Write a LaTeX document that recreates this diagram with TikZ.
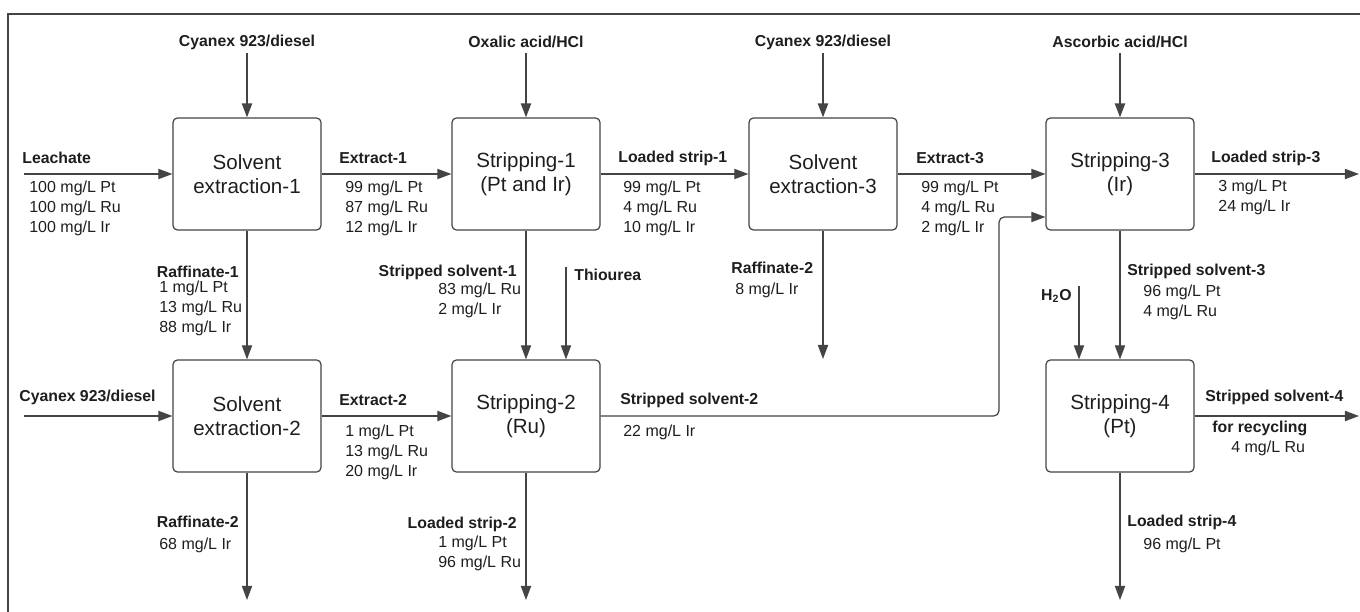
\documentclass[tikz,border=0pt]{standalone}
\usepackage{fontspec}
\setmainfont{Liberation Sans}
\usepackage{xcolor}
\usetikzlibrary{arrows.meta}
\definecolor{linegray}{HTML}{444444}
\definecolor{textgray}{HTML}{1E1E1E}

\begin{document}
\begin{tikzpicture}[x=0.02cm,y=-0.02cm,
    box/.style={draw=linegray,line width=0.7pt,rounded corners=2.5pt,minimum width=2.96cm,minimum height=2.24cm,align=center,text=textgray,font=\fontsize{11.7}{13.7}\selectfont},
    flow/.style={draw=linegray,line width=0.7pt,-{Triangle[length=8pt,width=5.8pt]}},
    feed/.style={flow,line width=1pt},
    lbl/.style={inner sep=0pt,text=textgray,font=\bfseries\fontsize{9}{11.4}\selectfont},
    val/.style={inner sep=0pt,align=left,anchor=west,text=textgray,font=\fontsize{9.1}{11.4}\selectfont}]
    \useasboundingbox (0,0) rectangle (1360,612);
    \draw[linegray,line width=0.6pt] (8,612) -- (8,14) -- (1360,14);
    \node[box] (se1) at (247,174) {Solvent\\extraction-1};
    \node[box] (st1) at (526,174) {Stripping-1\\(Pt and Ir)};
    \node[box] (se3) at (823,174) {Solvent\\extraction-3};
    \node[box] (st3) at (1120,174) {Stripping-3\\(Ir)};
    \node[box] (se2) at (247,416) {Solvent\\extraction-2};
    \node[box] (st2) at (526,416) {Stripping-2\\(Ru)};
    \node[box] (st4) at (1120,416) {Stripping-4\\(Pt)};
    \coordinate (in1) at (247,53);
    \coordinate (in2) at (526,53);
    \coordinate (in3) at (823,53);
    \coordinate (in4) at (1120,53);
    \coordinate (in5) at (24,174);
    \coordinate (in6) at (24,416);
    \coordinate (in7) at (566,267);
    \coordinate (in8) at (1079,286);
    \coordinate (out1) at (1359,174);
    \coordinate (out2) at (823,359);
    \coordinate (out3) at (247,600);
    \coordinate (out4) at (526,600);
    \coordinate (out5) at (1120,600);
    \coordinate (out6) at (1359,416);
    \coordinate (bend) at (999,217);
    \node[lbl] (cy1) at (247,42) {Cyanex 923/diesel};
    \node[lbl] (ox) at (526,42) {Oxalic acid/HCl};
    \node[lbl] (cy3) at (823,42) {Cyanex 923/diesel};
    \node[lbl] (asc) at (1120,42) {Ascorbic acid/HCl};
    \draw[feed] (in1) -- (se1);
    \draw[feed] (in2) -- (st1);
    \draw[feed] (in3) -- (se3);
    \draw[feed] (in4) -- (st3);
    \draw[flow] (in5) -- (se1);
    \draw[flow] (se1) -- (st1);
    \draw[flow] (st1) -- (se3);
    \draw[flow] (se3) -- (st3);
    \draw[flow] (st3) -- (out1);
    \draw[flow] (se1) -- (se2);
    \draw[flow] (st1) -- (st2);
    \draw[flow] (in7) -- (in7 |- st2.north);
    \draw[flow] (se3) -- (out2);
    \draw[flow] (st3) -- (st4);
    \draw[flow] (in8) -- (in8 |- st4.north);
    \draw[flow] (in6) -- (se2);
    \draw[flow] (se2) -- (st2);
    \draw[flow,rounded corners=3pt] (st2.east) -| (bend) -- (bend -| st3.west);
    \draw[flow] (se2) -- (out3);
    \draw[flow] (st2) -- (out4);
    \draw[flow] (st4) -- (out6);
    \draw[flow] (st4) -- (out5);
    \begin{scope}[every node/.append style={anchor=west}]
      \node[lbl] (leach) at (22,158) {Leachate};
      \node[val] (leachv) at (29,208) {100 mg/L Pt\\100 mg/L Ru\\100 mg/L Ir};
      \node[lbl] (ex1) at (339,158) {Extract-1};
      \node[val] (ex1v) at (345,208) {99 mg/L Pt\\87 mg/L Ru\\12 mg/L Ir};
      \node[lbl] (ls1) at (618,158) {Loaded strip-1};
      \node[val] (ls1v) at (623,208) {99 mg/L Pt\\4 mg/L Ru\\10 mg/L Ir};
      \node[lbl] (ex3) at (916,158) {Extract-3};
      \node[val] (ex3v) at (921,208) {99 mg/L Pt\\4 mg/L Ru\\2 mg/L Ir};
      \node[lbl] (ls3) at (1211,158) {Loaded strip-3};
      \node[val] (ls3v) at (1218,197) {3 mg/L Pt\\24 mg/L Ir};
      \node[lbl,anchor=east] (raf1) at (239,272) {Raffinate-1};
      \node[val] (raf1v) at (159,308) {1 mg/L Pt\\13 mg/L Ru\\88 mg/L Ir};
      \node[lbl,anchor=east] (ss1) at (517,272) {Stripped solvent-1};
      \node[val] (ss1v) at (438,300) {83 mg/L Ru\\2 mg/L Ir};
      \node[lbl] (thio) at (574,275) {Thiourea};
      \node[lbl] (raf2a) at (731,268) {Raffinate-2};
      \node[val] (raf2av) at (735,290) {8 mg/L Ir};
      \node[lbl] (ss3) at (1127,271) {Stripped solvent-3};
      \node[val] (ss3v) at (1143,302) {96 mg/L Pt\\4 mg/L Ru};
      \node[lbl,anchor=east] (water) at (1072,296) {H\textsubscript{2}O};
      \node[lbl] (cy2) at (19,397) {Cyanex 923/diesel};
      \node[lbl] (ex2) at (339,400) {Extract-2};
      \node[val] (ex2v) at (345,452) {1 mg/L Pt\\13 mg/L Ru\\20 mg/L Ir};
      \node[lbl] (ss2) at (620,400) {Stripped solvent-2};
      \node[val] (ss2v) at (623,432) {22 mg/L Ir};
      \node[lbl] (ss4) at (1205,397) {Stripped solvent-4};
      \node[lbl] (recy) at (1212,428) {for recycling};
      \node[val] (ss4v) at (1231,448) {4 mg/L Ru};
      \node[lbl,anchor=east] (raf2b) at (239,522) {Raffinate-2};
      \node[val] (raf2bv) at (159,545) {68 mg/L Ir};
      \node[lbl,anchor=east] (ls2) at (517,524) {Loaded strip-2};
      \node[val] (ls2v) at (438,553) {1 mg/L Pt\\96 mg/L Ru};
      \node[lbl] (ls4) at (1127,522) {Loaded strip-4};
      \node[val] (ls4v) at (1143,545) {96 mg/L Pt};
    \end{scope}
\end{tikzpicture}
\end{document}
